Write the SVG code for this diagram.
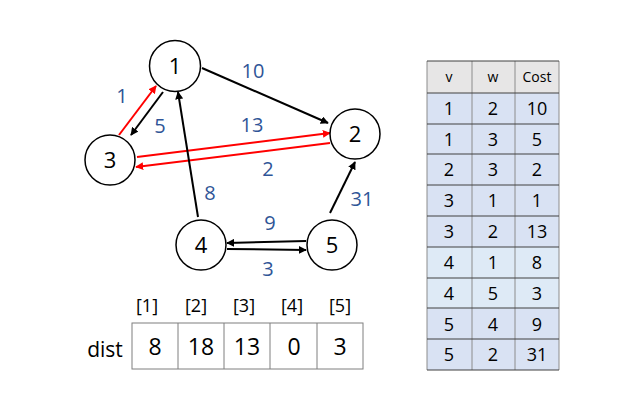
<svg xmlns="http://www.w3.org/2000/svg" width="625" height="411" viewBox="0 0 625 411">
<style>
.node circle{fill:#fff;stroke:#000;stroke-width:1.5}
.node text{font-family:"Open Sans","Noto Sans",sans-serif;font-size:22px;fill:#000;text-anchor:middle}
.e{stroke-width:2;fill:none}
.k{stroke:#000;marker-end:url(#ak)}
.r{stroke:#f00;marker-end:url(#ar)}
.lbl{font-family:"Open Sans","Noto Sans",sans-serif;font-size:20px;fill:#2F5597;text-anchor:middle}
.t{font-family:"Open Sans","Noto Sans",sans-serif;font-size:18px;fill:#000;text-anchor:middle}
.ix{font-family:"Open Sans","Noto Sans",sans-serif;font-size:18px;fill:#000;text-anchor:middle}
.d{font-family:"Open Sans","Noto Sans",sans-serif;font-size:23px;fill:#000;text-anchor:middle}
.th{font-family:"Open Sans","Noto Sans",sans-serif;font-size:14px;fill:#000;text-anchor:middle}
.hl{stroke:#404040;stroke-width:1}
.vl{stroke:#8c8c8c;stroke-width:1}
</style>
<defs>
<marker id="ak" viewBox="0 0 10 10" refX="9" refY="5" markerWidth="4" markerHeight="4" orient="auto" markerUnits="strokeWidth"><path d="M0,0 L10,5 L0,10 z" fill="#000"/></marker>
<marker id="ar" viewBox="0 0 10 10" refX="9" refY="5" markerWidth="4" markerHeight="4" orient="auto" markerUnits="strokeWidth"><path d="M0,0 L10,5 L0,10 z" fill="#f00"/></marker>
</defs>
<rect width="625" height="411" fill="#fff"/>
<g id="connectors">
<line class="e k" x1="202" y1="68" x2="328" y2="123"/>
<line class="e k" x1="163" y1="92" x2="131" y2="135"/>
<line class="e r" x1="119" y1="135" x2="156" y2="86"/>
<line class="e r" x1="137" y1="157" x2="330" y2="133"/>
<line class="e r" x1="330" y1="143" x2="136" y2="167"/>
<line class="e k" x1="198" y1="217" x2="178" y2="92"/>
<line class="e k" x1="330" y1="213" x2="355" y2="162"/>
<line class="e k" x1="306" y1="241" x2="227" y2="243"/>
<line class="e k" x1="227" y1="249" x2="306" y2="250"/>
</g>
<g id="edge-labels">
<text class="lbl" x="253" y="78">10</text>
<text class="lbl" x="122" y="103">1</text>
<text class="lbl" x="160" y="133">5</text>
<text class="lbl" x="252" y="132">13</text>
<text class="lbl" x="268" y="176">2</text>
<text class="lbl" x="210" y="200">8</text>
<text class="lbl" x="362" y="206">31</text>
<text class="lbl" x="270" y="230">9</text>
<text class="lbl" x="268" y="276">3</text>
</g>
<g id="node1" class="node"><circle cx="175" cy="66" r="25.5"/><text x="175" y="74">1</text></g>
<g id="node2" class="node"><circle cx="355" cy="134" r="25"/><text x="355" y="142">2</text></g>
<g id="node3" class="node"><circle cx="110" cy="160" r="25"/><text x="110" y="168">3</text></g>
<g id="node4" class="node"><circle cx="201" cy="245" r="25"/><text x="201" y="253">4</text></g>
<g id="node5" class="node"><circle cx="332" cy="245" r="25"/><text x="332" y="253">5</text></g>
<g id="dist">
<text class="ix" x="147" y="312">[1]</text>
<text class="ix" x="196" y="312">[2]</text>
<text class="ix" x="244" y="312">[3]</text>
<text class="ix" x="292" y="312">[4]</text>
<text class="ix" x="340" y="312">[5]</text>
<text class="d" x="105" y="357" style="font-size:21px">dist</text>
<rect x="132" y="323" width="231" height="46" fill="#fff" stroke="#7f7f7f" stroke-width="1"/>
<line x1="178" y1="323" x2="178" y2="369" stroke="#7f7f7f"/>
<line x1="224" y1="323" x2="224" y2="369" stroke="#7f7f7f"/>
<line x1="270" y1="323" x2="270" y2="369" stroke="#7f7f7f"/>
<line x1="317" y1="323" x2="317" y2="369" stroke="#7f7f7f"/>
<text class="d" x="155" y="355">8</text>
<text class="d" x="201" y="355">18</text>
<text class="d" x="247" y="355">13</text>
<text class="d" x="294" y="355">0</text>
<text class="d" x="340" y="355">3</text>
</g>
<g id="table">
<rect x="427" y="61" width="132" height="32" fill="#E7E6E6"/>
<rect x="427" y="93" width="132" height="277" fill="#D9E2F3"/>
<rect x="427" y="247" width="132" height="61" fill="#DEEAF6"/>
<text class="th" x="449" y="82">v</text>
<text class="th" x="493" y="82">w</text>
<text class="th" x="537" y="82">Cost</text>
<text class="t" x="449" y="115">1</text><text class="t" x="493" y="115">2</text><text class="t" x="537" y="115">10</text>
<text class="t" x="449" y="146">1</text><text class="t" x="493" y="146">3</text><text class="t" x="537" y="146">5</text>
<text class="t" x="449" y="176">2</text><text class="t" x="493" y="176">3</text><text class="t" x="537" y="176">2</text>
<text class="t" x="449" y="207">3</text><text class="t" x="493" y="207">1</text><text class="t" x="537" y="207">1</text>
<text class="t" x="449" y="238">3</text><text class="t" x="493" y="238">2</text><text class="t" x="537" y="238">13</text>
<text class="t" x="449" y="269">4</text><text class="t" x="493" y="269">1</text><text class="t" x="537" y="269">8</text>
<text class="t" x="449" y="300">4</text><text class="t" x="493" y="300">5</text><text class="t" x="537" y="300">3</text>
<text class="t" x="449" y="331">5</text><text class="t" x="493" y="331">4</text><text class="t" x="537" y="331">9</text>
<text class="t" x="449" y="361">5</text><text class="t" x="493" y="361">2</text><text class="t" x="537" y="361">31</text>
<line class="vl" x1="427" y1="61" x2="427" y2="370"/>
<line class="vl" x1="472" y1="61" x2="472" y2="370"/>
<line class="vl" x1="515" y1="61" x2="515" y2="370"/>
<line class="vl" x1="559" y1="61" x2="559" y2="370"/>
<line class="hl" x1="427" y1="61" x2="559" y2="61"/>
<line class="hl" x1="427" y1="93" x2="559" y2="93"/>
<line class="hl" x1="427" y1="124" x2="559" y2="124"/>
<line class="hl" x1="427" y1="154" x2="559" y2="154"/>
<line class="hl" x1="427" y1="185" x2="559" y2="185"/>
<line class="hl" x1="427" y1="216" x2="559" y2="216"/>
<line class="hl" x1="427" y1="247" x2="559" y2="247"/>
<line class="hl" x1="427" y1="278" x2="559" y2="278"/>
<line class="hl" x1="427" y1="308" x2="559" y2="308"/>
<line class="hl" x1="427" y1="339" x2="559" y2="339"/>
<line class="hl" x1="427" y1="370" x2="559" y2="370"/>
</g>
</svg>
